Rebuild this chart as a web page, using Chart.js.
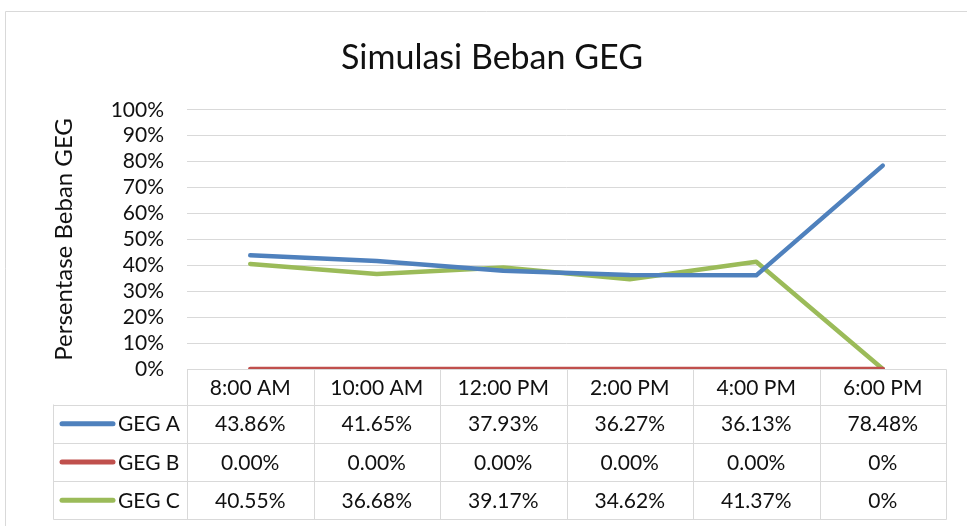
<!DOCTYPE html>
<html>
<head>
<meta charset="utf-8">
<script src="https://cdn.jsdelivr.net/npm/chart.js"></script>
<style>
  html, body { margin: 0; padding: 0; background: #fff; }
  canvas { display: block; }
</style>
</head>
<body>
<canvas id="geg" width="967" height="526"></canvas>
<script>
const categories = ['8:00 AM', '10:00 AM', '12:00 PM', '2:00 PM', '4:00 PM', '6:00 PM'];
const gegA = [43.86, 41.65, 37.93, 36.27, 36.13, 78.48];
const gegB = [0, 0, 0, 0, 0, 0];
const gegC = [40.55, 36.68, 39.17, 34.62, 41.37, 0];
const yTicks = [0, 10, 20, 30, 40, 50, 60, 70, 80, 90, 100];

const FONT = 'Lato';
const TEXT = '#111';
const GRID = '#d9d9d9';

// Excel writes the last column as plain 0%
function fmt(v, i) {
    if (i === categories.length - 1 && v === 0) return '0%';
    return v.toFixed(2) + '%';
}

const frame = {
    id: 'frame',
    beforeDraw(chart) {
        const ctx = chart.ctx;
        ctx.save();
        ctx.fillStyle = '#fff';
        ctx.fillRect(0, 0, chart.width, chart.height);
        ctx.strokeStyle = GRID;
        ctx.lineWidth = 1;
        ctx.beginPath();
        ctx.moveTo(5.5, chart.height);
        ctx.lineTo(5.5, 11.5);
        ctx.lineTo(chart.width, 11.5);
        ctx.stroke();
        ctx.restore();
    }
};

// data table under the plot, columns follow the x scale
const dataTable = {
    id: 'dataTable',
    afterDraw(chart) {
        const ctx = chart.ctx;
        const x = chart.scales.x;
        const area = chart.chartArea;
        const step = x.getPixelForValue(1) - x.getPixelForValue(0);
        const left = Math.round(x.getPixelForValue(0) - step / 2) + 0.5;
        const right = Math.round(x.getPixelForValue(categories.length - 1) + step / 2) + 0.5;
        const keyLeft = 53.5;
        const top = Math.round(area.bottom) + 0.5;
        const headH = 35, rowH = 38.3;
        const rowsTop = top + headH;
        const bottom = rowsTop + rowH * 3;

        ctx.save();
        ctx.strokeStyle = GRID;
        ctx.lineWidth = 1;
        ctx.beginPath();
        ctx.moveTo(left, top); ctx.lineTo(right, top);
        for (let r = 0; r <= 3; r++) {
            const yy = Math.round(rowsTop + rowH * r) + 0.5;
            ctx.moveTo(keyLeft, yy); ctx.lineTo(right, yy);
        }
        ctx.moveTo(keyLeft, rowsTop); ctx.lineTo(keyLeft, Math.round(bottom) + 0.5);
        for (let i = 0; i <= categories.length; i++) {
            const xx = Math.round(x.getPixelForValue(i) - step / 2) + 0.5;
            ctx.moveTo(xx, top); ctx.lineTo(xx, Math.round(bottom) + 0.5);
        }
        ctx.stroke();

        ctx.fillStyle = TEXT;
        ctx.font = '21px ' + FONT;
        ctx.textAlign = 'center';
        ctx.textBaseline = 'middle';
        categories.forEach((c, i) => {
            ctx.fillText(c, x.getPixelForValue(i), top + headH / 2 + 1);
        });

        chart.data.datasets.forEach((ds, r) => {
            const cy = rowsTop + rowH * r + rowH / 2 + 1;
            ctx.strokeStyle = ds.borderColor;
            ctx.lineWidth = 5;
            ctx.lineCap = 'round';
            ctx.beginPath();
            ctx.moveTo(62, cy - 1);
            ctx.lineTo(113, cy - 1);
            ctx.stroke();
            ctx.fillStyle = TEXT;
            ctx.textAlign = 'left';
            ctx.fillText(ds.label, 118, cy);
            ctx.textAlign = 'center';
            ds.data.forEach((v, i) => {
                ctx.fillText(fmt(v, i), x.getPixelForValue(i), cy);
            });
        });
        ctx.restore();
    }
};

const line = (label, data, color) => ({
    label: label,
    data: data,
    borderColor: color,
    backgroundColor: color,
    borderWidth: 4.5,
    borderCapStyle: 'round',
    borderJoinStyle: 'round',
    pointRadius: 0,
    tension: 0
});

new Chart(document.getElementById('geg'), {
    type: 'line',
    data: {
        labels: categories,
        datasets: [
            line('GEG A', gegA, '#4f81bd'),
            line('GEG B', gegB, '#c0504d'),
            line('GEG C', gegC, '#9bbb59')
        ]
    },
    options: {
        responsive: false,
        animation: false,
        devicePixelRatio: 1,
        layout: { padding: { top: 0, left: 38, right: 21, bottom: 157 } },
        plugins: {
            legend: { display: false },
            tooltip: { enabled: false },
            title: {
                display: true,
                text: 'Simulasi Beban GEG',
                color: TEXT,
                font: { family: FONT, size: 34, weight: 'normal' },
                padding: { top: 38, bottom: 31 }
            }
        },
        scales: {
            x: {
                display: false,
                offset: true
            },
            y: {
                min: 0,
                max: 100,
                afterBuildTicks(scale) {
                    scale.ticks = yTicks.map(v => ({ value: v }));
                },
                afterFit(scale) { scale.width = 149; },
                border: { display: false },
                grid: { color: GRID, drawTicks: false },
                ticks: {
                    autoSkip: false,
                    padding: 23,
                    color: TEXT,
                    font: { family: FONT, size: 21 },
                    callback: v => v + '%'
                },
                title: {
                    display: true,
                    text: 'Persentase Beban GEG',
                    color: TEXT,
                    font: { family: FONT, size: 24 },
                    padding: { top: 12 }
                }
            }
        }
    },
    plugins: [frame, dataTable]
});
</script>
</body>
</html>
